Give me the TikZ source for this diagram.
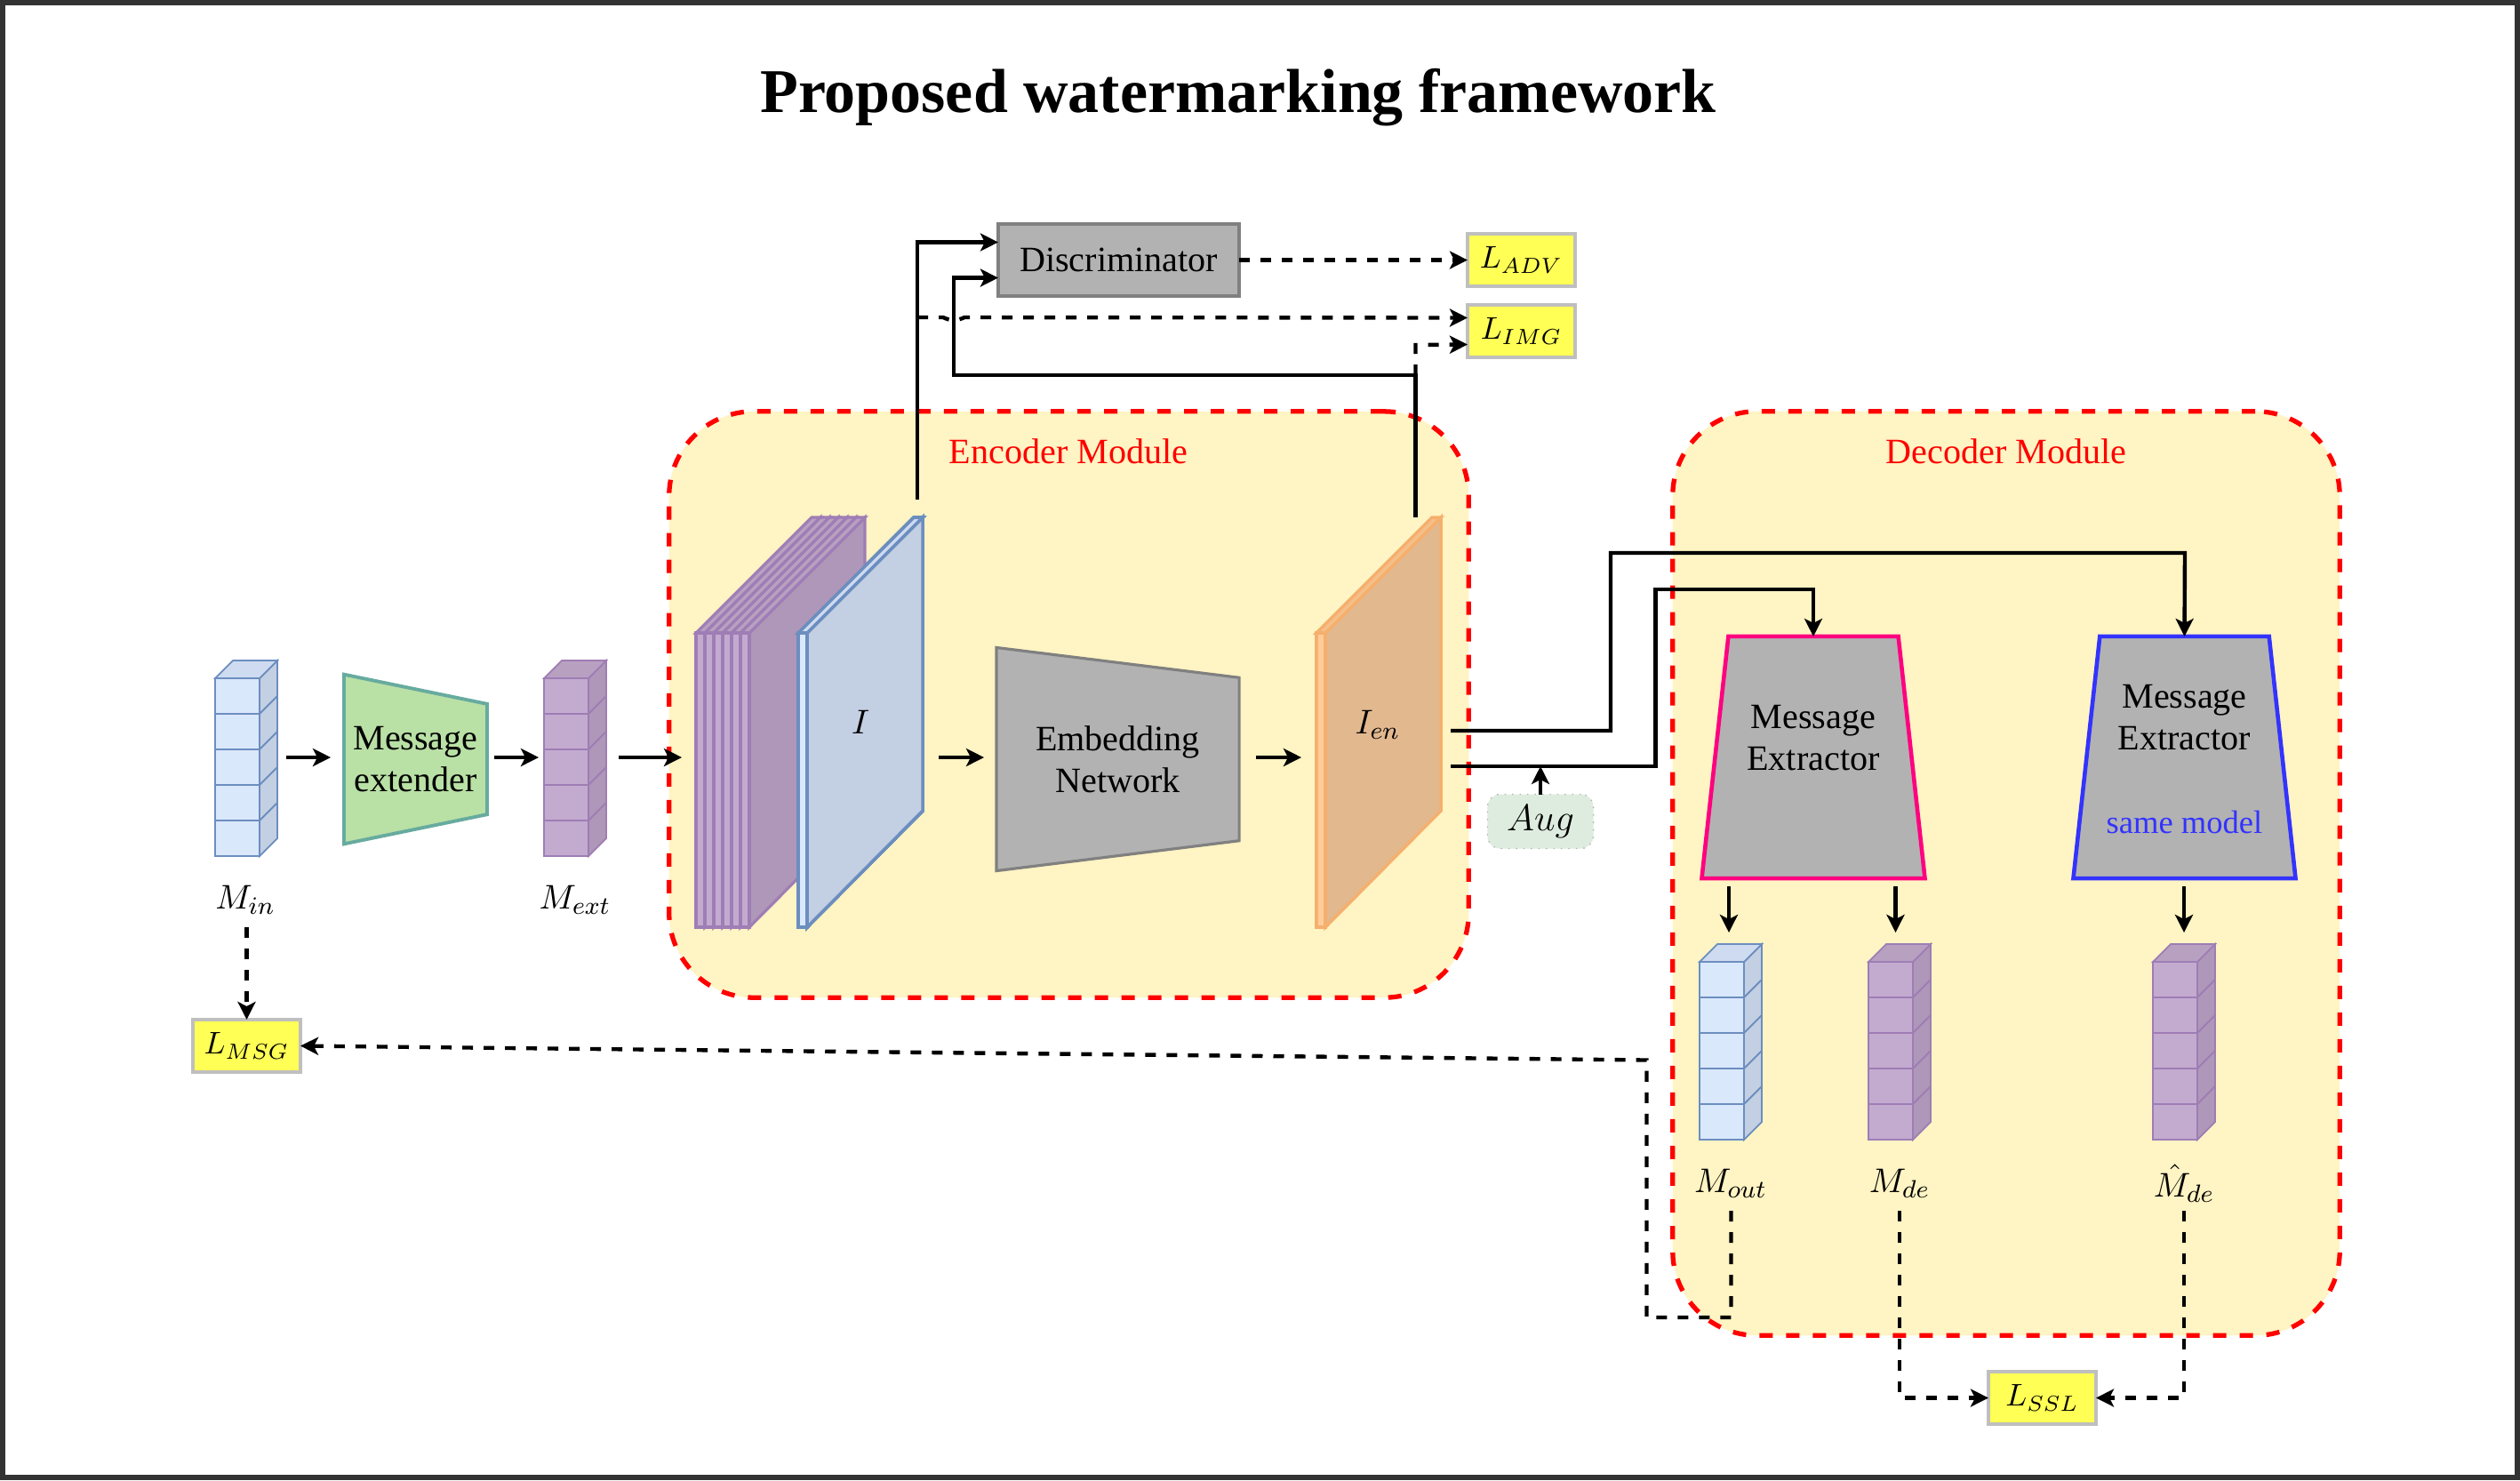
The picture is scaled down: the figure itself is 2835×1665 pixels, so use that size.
\documentclass[tikz,border=0pt]{standalone}
\usepackage{fontspec}
\setmainfont{Liberation Serif}
\usepackage{xcolor}
\usetikzlibrary{arrows.meta, positioning, shapes.geometric, calc}

\definecolor{blueF}{HTML}{DAE8FC}
\definecolor{blueS}{HTML}{C3CFE2}
\definecolor{blueT}{HTML}{CEDBF0}
\definecolor{blueL}{HTML}{6C8EBF}
\definecolor{purpF}{HTML}{C3ABD0}
\definecolor{purpS}{HTML}{AE97B8}
\definecolor{purpT}{HTML}{B8A0C1}
\definecolor{purpL}{HTML}{9F7DB5}
\definecolor{oranF}{HTML}{FFCC99}
\definecolor{oranS}{HTML}{E2B88F}
\definecolor{oranT}{HTML}{F5C08C}
\definecolor{oranL}{HTML}{F5B06E}
\definecolor{modfill}{HTML}{FFF4C3}
\definecolor{lossfill}{HTML}{FFFF55}
\definecolor{extfill}{HTML}{B9E0A5}
\definecolor{extline}{HTML}{67AB9F}
\definecolor{augfill}{HTML}{DDECDE}
\definecolor{pinkline}{HTML}{FF0080}
\definecolor{blueline}{HTML}{3333FF}

% one tall message vector: five cubes, given by top-left of its front
\newcommand{\msgstack}[2]{%
  \begin{scope}[shift={(#1)}, draw=#2L, line width=0.5pt]
    \foreach \i in {0,...,4} {
      \draw[fill=#2F] (0,40*\i) rectangle ++(50,40);
      \draw[fill=#2S] (50,40*\i) -- ++(20,-20) -- ++(0,40) -- ++(-20,20) -- cycle;
    }
    \draw[fill=#2T] (0,0) -- ++(20,-20) -- ++(50,0) -- ++(-20,20) -- cycle;
  \end{scope}}

% one thin image plate, given by its front left edge
\newcommand{\imgplate}[3][1pt]{%
  \begin{scope}[draw=#3L, line width=#1]
    \draw[fill=#3S] (#2+10,712) -- ++(130,-130) -- ++(0,330) -- (#2+10,1043) -- cycle;
    \draw[fill=#3T] (#2,712) -- ++(130,-130) -- ++(10,0) -- (#2+10,712) -- cycle;
    \draw[fill=#3F] (#2,712) rectangle (#2+10,1043);
  \end{scope}}

\begin{document}
\begin{tikzpicture}[
  x=0.01cm, y=-0.01cm,
  font=\fontsize{11.4}{13.4}\selectfont,
  flow/.style={-{Stealth[length=2mm, width=2mm, inset=0.5mm]}, line width=1.25pt},
  dflow/.style={flow, dash pattern=on 1.2mm off 1.2mm},
  module/.style={draw=red, fill=modfill, line width=1.5pt, dash pattern=on 1.5mm off 1.5mm, rounded corners=0.95cm, minimum height=6.59cm, inner sep=0pt, outer sep=0pt},
  loss/.style={draw=black!25, fill=lossfill, line width=0.9pt, minimum width=1.21cm, minimum height=0.59cm, inner sep=0pt, outer sep=0pt, font=\fontsize{9.8}{12}\selectfont},
  gate/.style={trapezium, trapezium stretches=true, fill=black!30, inner sep=0pt, outer sep=0pt},
  lbl/.style={inner sep=0pt},
]
  \useasboundingbox (0,0) rectangle (2835,1665);
  \draw[draw=black!80, line width=1.5pt, fill=white] (3,3) rectangle (2832,1662);

  \node[lbl, font=\fontsize{19.9}{22}\selectfont\bfseries] (title) at (1393,110) {Proposed watermarking framework};

  % Encoder and decoder areas
  \node[module, minimum width=8.99cm] (enc) at (1202.5,792.5) {};
  \node[module, minimum width=7.50cm, minimum height=10.39cm] (dec) at (2257,982.5) {};
  \node[lbl, text=red] (enctxt) at (1202,508) {Encoder Module};
  \node[lbl, text=red] (dectxt) at (2257,508) {Decoder Module};

  % Input side
  \msgstack{242,763}{blue}
  \msgstack{612,763}{purp}
  \node[lbl] (min) at (276,1012) {$M_{in}$};
  \node[lbl] (mext) at (647,1012) {$M_{ext}$};
  \node[gate, draw=extline, fill=extfill, line width=1.1pt, shape border rotate=270, trapezium angle=82, minimum width=1.91cm, minimum height=1.61cm, align=center] (extender) at (467.5,854) {Message\\extender};

  % Feature plates and image
  \foreach \k in {0,10,...,50}
    \imgplate[0.9pt]{783+\k}{purp}
  \imgplate{898}{blue}
  \node[lbl] (img) at (968,812) {$I$};
  \node[gate, draw=black!50, line width=0.9pt, shape border rotate=270, trapezium angle=85.7, minimum width=2.51cm, minimum height=2.73cm, align=center] (embed) at (1257.5,854) {Embedding\\Network};
  \imgplate{1481}{oran}
  \node[lbl] (ien) at (1550,815) {$I_{en}$};

  % Top row
  \node[draw=black!50, fill=black!30, line width=1pt, minimum width=2.71cm, minimum height=0.81cm, inner sep=0pt, outer sep=0pt] (disc) at (1258.5,292.5) {Discriminator};
  \node[loss] (ladv) at (1711.5,292.5) {$L_{ADV}$};
  \node[loss] (limg) at (1711.5,372.5) {$L_{IMG}$};
  \node[loss] (lmsg) at (277.5,1176.5) {$L_{MSG}$};
  \node[loss] (lssl) at (2297.5,1572.5) {$L_{SSL}$};

  \node[draw=black!30, dotted, fill=augfill, rounded corners=4pt, minimum width=1.19cm, minimum height=0.61cm, inner sep=0pt, outer sep=0pt, font=\fontsize{12}{14}\selectfont] (aug) at (1733,924) {$Aug$};

  % Extractors
  \node[gate, draw=pinkline, line width=1.3pt, trapezium angle=78, minimum width=2.51cm, minimum height=2.72cm] (ext1) at (2040,852) {\phantom{M}};
  \node[gate, draw=blueline, line width=1.3pt, trapezium angle=78, minimum width=2.50cm, minimum height=2.72cm] (ext2) at (2457.5,852) {\phantom{M}};
  \node[lbl, align=center] (ext1txt) at (2040,830) {Message\\Extractor};
  \node[lbl, align=center] (ext2txt) at (2457.5,807) {Message\\Extractor};
  \node[lbl, text=blueline, font=\fontsize{10.4}{12}\selectfont] (same) at (2457.5,925) {same model};

  % Output vectors
  \msgstack{1912,1082}{blue}
  \msgstack{2102,1082}{purp}
  \msgstack{2422,1082}{purp}
  \node[lbl] (mout) at (1947,1331) {$M_{out}$};
  \node[lbl] (mde) at (2137,1331) {$M_{de}$};
  \node[lbl] (mhat) at (2457,1331) {$\hat{M}_{de}$};

  % Free ends of the connectors
  \coordinate (a1) at (322,852);
  \coordinate (a2) at (372,852);
  \coordinate (a3) at (556,852);
  \coordinate (a4) at (606,852);
  \coordinate (a5) at (696,852);
  \coordinate (a6) at (767,852);
  \coordinate (a7) at (1056,852);
  \coordinate (a8) at (1107,852);
  \coordinate (a9) at (1413,852);
  \coordinate (a10) at (1464,852);
  \coordinate (imgup) at (1032,562);
  \coordinate (ienup) at (1592.5,582);
  \coordinate (ienmid) at (1592.5,422);
  \coordinate (out1) at (1632,822);
  \coordinate (out2) at (1632,862);
  \coordinate (augin) at (1733,862);

  % Forward path
  \draw[flow] (a1) -- (a2);
  \draw[flow] (a3) -- (a4);
  \draw[flow] (a5) -- (a6);
  \draw[flow] (a7) -- (a8);
  \draw[flow] (a9) -- (a10);
  \draw[flow] (imgup) |- ([yshift=0.2cm]disc.west);
  \draw[flow] (ienup) -- (ienmid) -- (1073,422) |- ([yshift=-0.2cm]disc.west);
  \draw[flow] (out1) -- (1812,822) |- (2458,622) -- (ext2.top side);
  \draw[flow] (out2) -- (1862.5,862) |- (2040,663) -- (ext1.top side);
  \draw[flow] (aug.north) -- (augin);
  \draw[flow] (1945,997) -- (1945,1049);
  \draw[flow] (2132.5,997) -- (2132.5,1049);
  \draw[flow] (2457,997) -- (2457,1049);

  % Losses
  \draw[dflow] (disc.east) -- (ladv.west);
  \draw[dflow] (1032,357) -- (1061,357) .. controls (1069,361) and (1077,361) .. (1085,357) -- ([yshift=0.15cm]limg.west);
  \draw[dflow] (ienmid) -- (1592.5,388) -- ([yshift=-0.15cm]limg.west);
  \draw[dflow] (277.5,1043) -- (lmsg.north);
  \draw[dflow] (1947.5,1362) -- (1947.5,1482) -- (1852.5,1482) -- (1852.5,1192.5) -- (lmsg.east);
  \draw[dflow] (2137,1362) |- (lssl.west);
  \draw[dflow] (2457,1362) |- (lssl.east);
\end{tikzpicture}
\end{document}
